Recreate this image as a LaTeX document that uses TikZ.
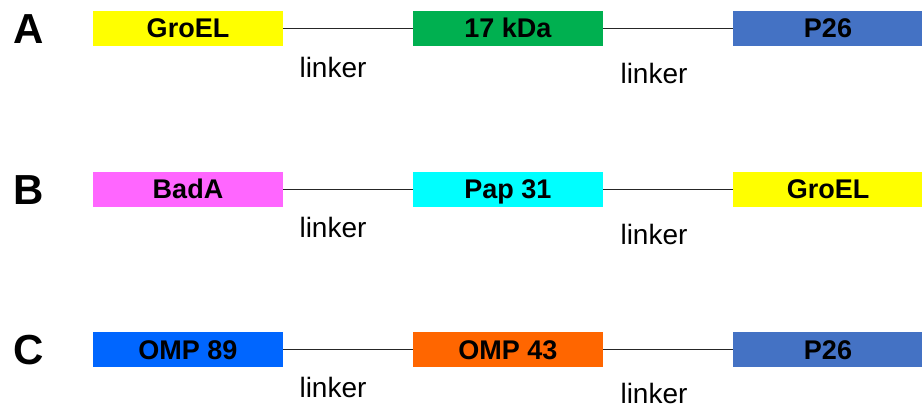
\documentclass[tikz,border=0pt]{standalone}
\usepackage{fontspec}
\setmainfont{Liberation Sans}
\definecolor{cyel}{HTML}{FFFF00}
\definecolor{cgrn}{HTML}{00B050}
\definecolor{cblu}{HTML}{4472C4}
\definecolor{cmag}{HTML}{FF66FF}
\definecolor{ccya}{HTML}{00FFFF}
\definecolor{cbri}{HTML}{0066FF}
\definecolor{corg}{HTML}{FF6600}
\begin{document}
\begin{tikzpicture}[x=1pt,y=-1pt,
  dom/.style={minimum width=190pt,minimum height=35pt,inner sep=0pt,
    font=\fontsize{27}{30}\selectfont\bfseries,text height=19pt,text depth=0pt},
  tag/.style={inner sep=0pt,font=\fontsize{42}{46}\selectfont\bfseries,
    text height=30pt,text depth=0pt},
  lnk/.style={inner sep=0pt,font=\fontsize{28}{32}\selectfont},
  conn/.style={draw=black!85,line width=1.1pt}]
\useasboundingbox (0,0) rectangle (922,409);
% Row A
\node[tag] (la) at (29,28.5) {A};
\node[dom,fill=cyel] (a1) at (188,28.5) {GroEL};
\node[dom,fill=cgrn] (a2) at (508,28.5) {17 kDa};
\node[dom,fill=cblu] (a3) at (828,28.5) {P26};
\draw[conn] (a1.east) -- (a2.west);
\draw[conn] (a2.east) -- (a3.west);
\node[lnk] (ka1) at (333,67) {linker};
\node[lnk] (ka2) at (654,73) {linker};
% Row B
\node[tag] (lb) at (29,189.5) {B};
\node[dom,fill=cmag] (b1) at (188,189.5) {BadA};
\node[dom,fill=ccya] (b2) at (508,189.5) {Pap 31};
\node[dom,fill=cyel] (b3) at (828,189.5) {GroEL};
\draw[conn] (b1.east) -- (b2.west);
\draw[conn] (b2.east) -- (b3.west);
\node[lnk] (kb1) at (333,227) {linker};
\node[lnk] (kb2) at (654,234) {linker};
% Row C
\node[tag] (lc) at (29,349.5) {C};
\node[dom,fill=cbri] (c1) at (188,349.5) {OMP 89};
\node[dom,fill=corg] (c2) at (508,349.5) {OMP 43};
\node[dom,fill=cblu] (c3) at (828,349.5) {P26};
\draw[conn] (c1.east) -- (c2.west);
\draw[conn] (c2.east) -- (c3.west);
\node[lnk] (kc1) at (333,387) {linker};
\node[lnk] (kc2) at (654,393) {linker};
\end{tikzpicture}
\end{document}
